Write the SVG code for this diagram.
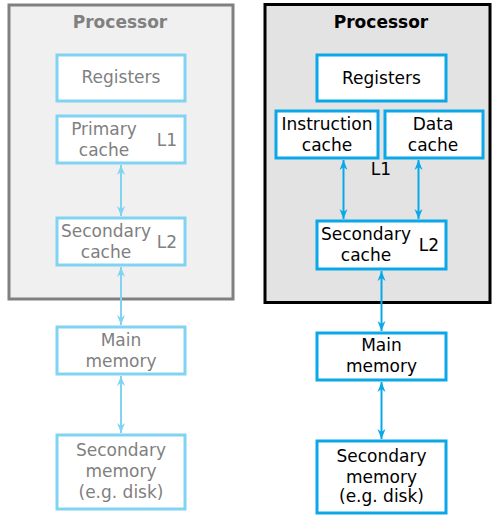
<svg xmlns="http://www.w3.org/2000/svg" width="493" height="515" viewBox="0 0 493 515">
<style>
text{font-family:"DejaVu Sans",sans-serif;font-size:17px;text-anchor:middle}
.lt{fill:#808080}
.rt{fill:#000}
.title{font-weight:bold}
.lbox{fill:#fff;stroke:#80d4f2;stroke-width:3}
.rbox{fill:#fff;stroke:#0aa8e8;stroke-width:3}
.lline{stroke:#80d4f2;stroke-width:2;fill:none;marker-start:url(#la);marker-end:url(#la)}
.rline{stroke:#0aa8e8;stroke-width:2;fill:none;marker-start:url(#ra);marker-end:url(#ra)}
</style>
<defs>
<marker id="la" viewBox="-11 -5 12 10" refX="0" refY="0" markerWidth="12" markerHeight="10" markerUnits="userSpaceOnUse" orient="auto-start-reverse"><path d="M0,0 L-10,-4 L-7,0 L-10,4 Z" fill="#80d4f2"/></marker>
<marker id="ra" viewBox="-11 -5 12 10" refX="0" refY="0" markerWidth="12" markerHeight="10" markerUnits="userSpaceOnUse" orient="auto-start-reverse"><path d="M0,0 L-10,-4 L-7,0 L-10,4 Z" fill="#0aa8e8"/></marker>
</defs>
<g id="left-processor">
<rect x="9" y="5" width="224" height="294" fill="#f0f0f0" stroke="#808080" stroke-width="3"/>
<text class="lt title" x="120" y="28">Processor</text>
</g>
<g id="right-processor">
<rect x="265" y="4.5" width="225" height="298" fill="#e3e3e3" stroke="#000" stroke-width="3"/>
<text class="rt title" x="381" y="28">Processor</text>
</g>
<g id="l-registers"><rect class="lbox" x="57" y="55" width="128" height="46"/><text class="lt" x="121" y="83">Registers</text></g>
<g id="l-primary"><rect class="lbox" x="57" y="116" width="128" height="47"/><text class="lt" x="104" y="135">Primary</text><text class="lt" x="104" y="156">cache</text><text class="lt" x="167" y="146">L1</text></g>
<g id="l-secondary-cache"><rect class="lbox" x="57" y="218" width="128" height="47"/><text class="lt" x="106" y="237">Secondary</text><text class="lt" x="106" y="258">cache</text><text class="lt" x="167" y="248">L2</text></g>
<g id="l-main"><rect class="lbox" x="57" y="327" width="128" height="47"/><text class="lt" x="121" y="346">Main</text><text class="lt" x="121" y="367">memory</text></g>
<g id="l-secmem"><rect class="lbox" x="57" y="435" width="128" height="74"/><text class="lt" x="121" y="456">Secondary</text><text class="lt" x="121" y="477">memory</text><text class="lt" x="121" y="498">(e.g. disk)</text></g>
<g id="r-registers"><rect class="rbox" x="317" y="55" width="129" height="46"/><text class="rt" x="381.5" y="84">Registers</text></g>
<g id="r-instruction"><rect class="rbox" x="276" y="111" width="102" height="47"/><text class="rt" x="327" y="130">Instruction</text><text class="rt" x="327" y="151">cache</text></g>
<g id="r-data"><rect class="rbox" x="385" y="111" width="98" height="47"/><text class="rt" x="433" y="130">Data</text><text class="rt" x="433" y="151">cache</text></g>
<text class="rt" x="381" y="175">L1</text>
<g id="r-secondary-cache"><rect class="rbox" x="317" y="221" width="129" height="48"/><text class="rt" x="366" y="240">Secondary</text><text class="rt" x="366" y="261">cache</text><text class="rt" x="429" y="251">L2</text></g>
<g id="r-main"><rect class="rbox" x="317" y="333" width="129" height="47"/><text class="rt" x="381.5" y="351">Main</text><text class="rt" x="381.5" y="372">memory</text></g>
<g id="r-secmem"><rect class="rbox" x="317" y="441" width="129" height="72"/><text class="rt" x="381.5" y="462">Secondary</text><text class="rt" x="381.5" y="483">memory</text><text class="rt" x="381.5" y="502">(e.g. disk)</text></g>
<g id="connectors">
<line class="lline" x1="121" y1="165" x2="121" y2="216"/>
<line class="lline" x1="121" y1="267" x2="121" y2="325"/>
<line class="lline" x1="121" y1="376" x2="121" y2="433"/>
<line class="rline" x1="343.5" y1="160" x2="343.5" y2="219"/>
<line class="rline" x1="418.5" y1="160" x2="418.5" y2="219"/>
<line class="rline" x1="381.5" y1="271" x2="381.5" y2="331"/>
<line class="rline" x1="381.5" y1="382" x2="381.5" y2="439"/>
</g>
</svg>
